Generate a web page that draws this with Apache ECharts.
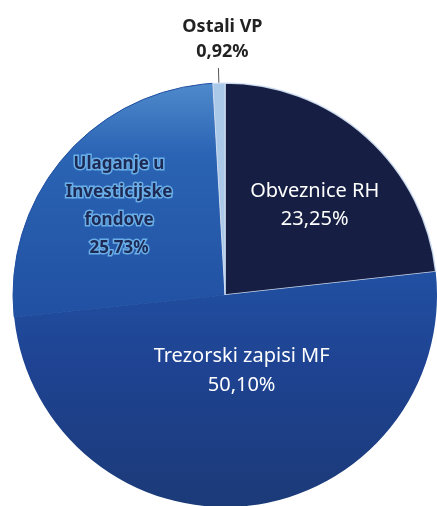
<!DOCTYPE html>
<html>
<head>
<meta charset="utf-8">
<script src="https://cdn.jsdelivr.net/npm/echarts@6/dist/echarts.min.js"></script>
<style>
  html, body { margin: 0; padding: 0; background: #fff; }
  #main { width: 437px; height: 506px; }
</style>
</head>
<body>
<div id="main"></div>
<script>
// struktura ulaganja
const categories = ['Obveznice RH', 'Trezorski zapisi MF', 'Ulaganje u\nInvesticijske\nfondove', 'Ostali VP']
const shares = [23.25, 50.10, 25.73, 0.92]

const chart = echarts.init(document.getElementById('main'))

// boje isjecaka
const colors = [
  '#161f43',
  new echarts.graphic.LinearGradient(0, 0, 0, 1, [
    { offset: 0, color: '#2150a2' },
    { offset: 0.4, color: '#1f4392' },
    { offset: 1, color: '#1b3a78' }
  ]),
  new echarts.graphic.LinearGradient(0, 0, 0, 1, [
    { offset: 0, color: '#4f8acc' },
    { offset: 0.3, color: '#2b64b4' },
    { offset: 1, color: '#2150a2' }
  ]),
  '#aac8e8'
]

const fmt = v => v.toFixed(2).replace('.', ',') + '%'

const labelStyles = [
  { color: '#fff', fontSize: 20, lineHeight: 28 },
  { color: '#fff', fontSize: 20, lineHeight: 29 },
  { color: '#1c2a55', fontSize: 17, fontWeight: 'bold', lineHeight: 28,
    textBorderColor: '#6aaee8', textBorderWidth: 3 },
  { color: '#222', fontSize: 18, fontWeight: 'bold', lineHeight: 25 }
]

// obrub: svijetli oko tamnog i svijetlog isjecka, bez vidljivog ruba izmedju plavih
const borders = [1.5, 0, 1, 1]
const borderColors = ['rgba(215,228,246,0.9)', 'rgba(0,0,0,0)', '#2150a2', 'rgba(215,228,246,0.9)']

const data = categories.map((name, i) => ({
  name,
  value: shares[i],
  itemStyle: { color: colors[i], borderWidth: borders[i], borderColor: borderColors[i] },
  label: Object.assign({
    position: i === 3 ? 'outside' : 'inside',
    formatter: p => p.name + '\n' + fmt(p.value)
  }, labelStyles[i]),
  labelLine: { show: i === 3, length: 15, length2: 0, lineStyle: { color: '#555', width: 1 } }
}))

chart.setOption({
  backgroundColor: '#fff',
  animation: false,
  series: [{
    type: 'pie',
    center: ['225px', '295px'],
    radius: 212,
    startAngle: 90,
    clockwise: true,
    data,
    label: { fontFamily: 'Noto Sans' },
    labelLayout: function (params) {
      // pomaci oznaka prema slici
      if (params.dataIndex === 0) return { dx: 17, dy: -9 }
      if (params.dataIndex === 1) return { dx: 5, dy: -33 }
      if (params.dataIndex === 2) return { dx: -23, dy: -18 }
      return { align: 'center', verticalAlign: 'bottom', dx: 9, dy: -4 }
    }
  }]
})
</script>
</body>
</html>
